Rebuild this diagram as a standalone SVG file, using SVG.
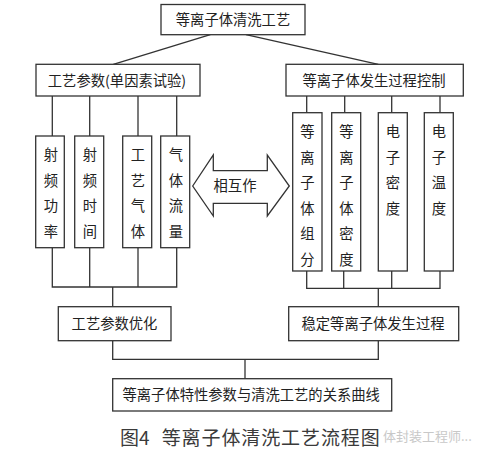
<svg xmlns="http://www.w3.org/2000/svg" width="489" height="455" viewBox="0 0 489 455">
<style>
rect.b{fill:#fff;stroke:#333;stroke-width:1.3}
.c line,.c polyline{stroke:#333;stroke-width:1.3;fill:none}
text{font-family:"Noto Sans CJK SC","Noto Sans",sans-serif;font-size:14.3px;fill:#222;text-anchor:middle}
.cap{font-size:19px;fill:#3a3a3a;text-anchor:start}
.wm{font-size:13px;fill:#c8c8c8;text-anchor:start}
</style>
<rect width="489" height="455" fill="#fff"/>
<g class="c" id="connectors">
<line x1="210.3" y1="34.7" x2="113.3" y2="64.3"/>
<line x1="246" y1="34.7" x2="378.3" y2="64.3"/>
<line x1="52.3" y1="96" x2="52.3" y2="136"/>
<line x1="89.7" y1="96" x2="89.7" y2="136"/>
<line x1="138" y1="96" x2="138" y2="136"/>
<line x1="176.7" y1="96" x2="176.7" y2="136"/>
<polyline points="52.3,247.7 52.3,287 176.7,287 176.7,247.7"/>
<line x1="89.7" y1="247.7" x2="89.7" y2="287"/>
<line x1="138" y1="247.7" x2="138" y2="287"/>
<line x1="112.7" y1="287" x2="112.7" y2="306.7"/>
<line x1="306.7" y1="96" x2="306.7" y2="112.7"/>
<line x1="344.7" y1="96" x2="344.7" y2="112.7"/>
<line x1="391.7" y1="96" x2="391.7" y2="112.7"/>
<line x1="440" y1="96" x2="440" y2="112.7"/>
<polyline points="306.7,271 306.7,288.3 440,288.3 440,271"/>
<line x1="343.7" y1="271" x2="343.7" y2="288.3"/>
<line x1="391.7" y1="271" x2="391.7" y2="288.3"/>
<line x1="378.3" y1="288.3" x2="378.3" y2="306.7"/>
<polyline points="112.7,340.7 112.7,359.3 378.3,359.3 378.3,340.7"/>
<line x1="245" y1="359.3" x2="245" y2="378.7"/>
</g>
<g id="n-top"><rect class="b" x="161" y="4.5" width="144" height="30.2"/><text x="233" y="25">等离子体清洗工艺</text></g>
<g id="n-left"><rect class="b" x="36" y="64.3" width="164" height="31.7"/><text x="117" y="85.6">工艺参数(单因素试验)</text></g>
<g id="n-right"><rect class="b" x="286" y="64.3" width="177.3" height="31.7"/><text x="374" y="85.6">等离子体发生过程控制</text></g>
<g id="n-l1"><rect class="b" x="35.7" y="136" width="28.6" height="111.7"/>
<text x="51" y="160.4">射</text><text x="51" y="185.9">频</text><text x="51" y="211.4">功</text><text x="51" y="236.9">率</text></g>
<g id="n-l2"><rect class="b" x="74.7" y="136" width="29" height="111.7"/>
<text x="90" y="160.4">射</text><text x="90" y="185.9">频</text><text x="90" y="211.4">时</text><text x="90" y="236.9">间</text></g>
<g id="n-l3"><rect class="b" x="122.7" y="136" width="29" height="111.7"/>
<text x="138" y="160.4">工</text><text x="138" y="185.9">艺</text><text x="138" y="211.4">气</text><text x="138" y="236.9">体</text></g>
<g id="n-l4"><rect class="b" x="160.7" y="136" width="29" height="111.7"/>
<text x="176" y="160.4">气</text><text x="176" y="185.9">体</text><text x="176" y="211.4">流</text><text x="176" y="236.9">量</text></g>
<g id="n-r1"><rect class="b" x="292.7" y="112.7" width="29.3" height="158.3"/>
<text x="307.5" y="137.1">等</text><text x="307.5" y="162.6">离</text><text x="307.5" y="188.1">子</text><text x="307.5" y="213.6">体</text><text x="307.5" y="239.1">组</text><text x="307.5" y="264.6">分</text></g>
<g id="n-r2"><rect class="b" x="331.7" y="112.7" width="29" height="158.3"/>
<text x="346.5" y="137.1">等</text><text x="346.5" y="162.6">离</text><text x="346.5" y="188.1">子</text><text x="346.5" y="213.6">体</text><text x="346.5" y="239.1">密</text><text x="346.5" y="264.6">度</text></g>
<g id="n-r3"><rect class="b" x="378.3" y="112.7" width="29" height="158.3"/>
<text x="393" y="137.1">电</text><text x="393" y="162.6">子</text><text x="393" y="188.1">密</text><text x="393" y="213.6">度</text></g>
<g id="n-r4"><rect class="b" x="424.3" y="112.7" width="29" height="158.3"/>
<text x="439" y="137.1">电</text><text x="439" y="162.6">子</text><text x="439" y="188.1">温</text><text x="439" y="213.6">度</text></g>
<g id="n-inter"><polygon points="192.7,186 213.3,155 213.3,170.7 267.3,170.7 267.3,155 289.3,186 267.3,216 267.3,203.3 213.3,203.3 213.3,216" fill="#fff" stroke="#333" stroke-width="1.3"/><text x="235" y="191.4">相互作</text></g>
<g id="n-opt"><rect class="b" x="58.3" y="306.7" width="112.7" height="34"/><text x="114.5" y="329.1">工艺参数优化</text></g>
<g id="n-stable"><rect class="b" x="288.7" y="306.7" width="170" height="34"/><text x="373" y="329.1">稳定等离子体发生过程</text></g>
<g id="n-bottom"><rect class="b" x="112.7" y="378.7" width="279" height="32.3"/><text x="251.2" y="400.3">等离子体特性参数与清洗工艺的关系曲线</text></g>
<text class="cap" x="120" y="444.5">图4</text>
<text class="cap" x="161.7" y="444.5" textLength="218" lengthAdjust="spacing">等离子体清洗工艺流程图</text>
<text class="wm" x="383" y="441">体封装工程师...</text>
</svg>
